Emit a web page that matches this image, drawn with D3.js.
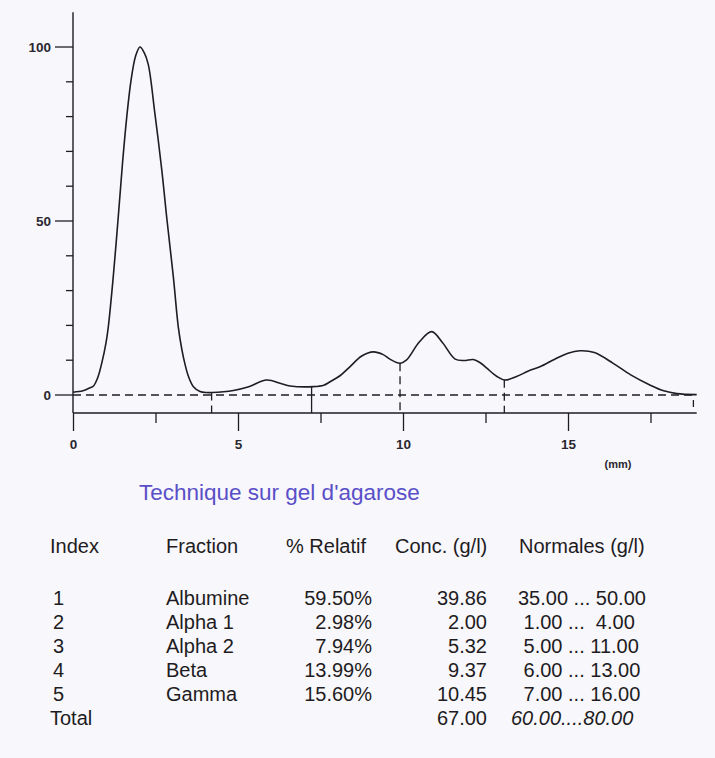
<!DOCTYPE html>
<html>
<head>
<meta charset="utf-8">
<script src="https://cdn.jsdelivr.net/npm/d3@7"></script>
<style>
  html, body { margin: 0; padding: 0; background: #f8f7fb; }
  svg { display: block; }
  text { font-family: "Liberation Sans", Arial, sans-serif; }
  .pre { white-space: pre; }
</style>
</head>
<body>
<svg id="chart" width="715" height="758"></svg>
<script>
// ---- data ----
const profileMm = [0,0.3,0.5,0.62,0.75,0.87,1.0,1.07,1.22,1.37,1.5,1.63,1.76,1.9,2.03,2.15,2.28,2.48,2.69,2.84,3.04,3.19,3.3,3.39,3.5,3.65,3.85,4.05,4.2,4.86,5.3,5.87,6.3,6.58,7.28,7.6,7.79,8.1,8.39,8.75,9.1,9.4,9.6,9.91,10.1,10.5,10.87,11.2,11.58,11.85,12.13,12.35,12.54,12.85,13.09,13.44,13.8,14.15,14.6,15.0,15.36,15.8,16.37,16.9,17.48,17.9,18.3,18.9];
const profileVal = [0.8,1.2,2.0,2.6,5,9.1,15,19.6,34,51,66.6,80,90.5,97.5,100,98.5,95,81,64.7,51,34,19.6,13,9,5.3,2.4,1.0,0.7,0.7,1.3,2.3,4.3,3.3,2.6,2.4,2.8,3.8,5.6,8.1,11.2,12.4,11.6,10.3,9.1,10,15.3,18.2,15,10.3,9.9,10.2,9.2,7.7,5.3,4.3,5.3,6.9,8.1,10.3,12,12.7,12.2,9.1,5.8,2.9,1.2,0.4,0.1];
const fractionBounds = [4.2, 7.23, 9.91, 13.07];
const profileEnd = 18.8;
const xMajorTicks = [0, 5, 10, 15];
const xMinorTicks = [2.5, 7.5, 12.5, 17.5];
const yMajorTicks = [0, 50, 100];
const yMinorTicks = [10, 20, 30, 40, 60, 70, 80, 90];

const title = "Technique sur gel d'agarose";
const headers = ["Index", "Fraction", "% Relatif", "Conc. (g/l)", "Normales (g/l)"];
const indexes = ["1", "2", "3", "4", "5"];
const fractions = ["Albumine", "Alpha 1", "Alpha 2", "Beta", "Gamma"];
const relatif = ["59.50%", "2.98%", "7.94%", "13.99%", "15.60%"];
const conc = ["39.86", "2.00", "5.32", "9.37", "10.45"];
const normLow = ["35.00", "1.00", "5.00", "6.00", "7.00"];
const normHigh = ["50.00", "4.00", "11.00", "13.00", "16.00"];
const totalLabel = "Total";
const totalConc = "67.00";
const totalNorm = "60.00....80.00";

// ---- chart ----
const svg = d3.select("#chart");
const ink = "#1f1c24";
const x = d3.scaleLinear().domain([0, 18.9]).range([73, 696.7]);
const y = d3.scaleLinear().domain([0, 100]).range([395, 47]);
const axisY = 413;

const pts = profileMm.map((m, i) => [m, profileVal[i]]);
const valAt = m => {
  const i = d3.bisector(d => d[0]).right(pts, m);
  const a = pts[i - 1], b = pts[i];
  return a[1] + (b[1] - a[1]) * (m - a[0]) / (b[0] - a[0]);
};

// y axis line
svg.append("line")
  .attr("x1", x(0)).attr("x2", x(0))
  .attr("y1", y(110)).attr("y2", axisY)
  .attr("stroke", ink).attr("stroke-width", 1.4);

// y ticks
svg.selectAll(".ymin").data(yMinorTicks).join("line")
  .attr("x1", x(0) - 7).attr("x2", x(0))
  .attr("y1", d => y(d)).attr("y2", d => y(d))
  .attr("stroke", ink).attr("stroke-width", 1.3);
svg.selectAll(".ymaj").data(yMajorTicks).join("line")
  .attr("x1", x(0) - 18).attr("x2", x(0))
  .attr("y1", d => y(d)).attr("y2", d => y(d))
  .attr("stroke", ink).attr("stroke-width", 1.3);
svg.selectAll(".ylab").data(yMajorTicks).join("text")
  .attr("x", x(0) - 22).attr("y", d => y(d)).attr("dy", "0.35em")
  .attr("text-anchor", "end").attr("font-size", 13.5).attr("font-weight", "bold")
  .attr("fill", "#2a2730").text(d => d);

// x axis
const xAxis = d3.axisBottom(x).tickValues(xMajorTicks).tickSize(18).tickFormat(d3.format("d"));
const gx = svg.append("g").attr("transform", `translate(0,${axisY})`).call(xAxis);
gx.select(".domain").attr("d", `M${x(0)},0H${x(18.9)}`).attr("stroke", ink).attr("stroke-width", 1.4);
gx.selectAll(".tick line").attr("stroke", ink).attr("stroke-width", 1.3);
gx.selectAll(".tick text").attr("font-size", 13.5).attr("font-weight", "bold")
  .attr("fill", "#2a2730").attr("y", 26).attr("font-family", "Liberation Sans, Arial, sans-serif");
const xAxisMinor = d3.axisBottom(x).tickValues(xMinorTicks).tickSize(10).tickFormat("");
const gxm = svg.append("g").attr("transform", `translate(0,${axisY})`).call(xAxisMinor);
gxm.select(".domain").remove();
gxm.selectAll(".tick line").attr("stroke", ink).attr("stroke-width", 1.3);

svg.append("text").attr("x", 618).attr("y", 468).attr("text-anchor", "middle")
  .attr("font-size", 11).attr("font-weight", "bold").attr("fill", "#2a2730").text("(mm)");

// baseline dashed
svg.append("line")
  .attr("x1", x(0)).attr("x2", x(18.9))
  .attr("y1", y(0)).attr("y2", y(0))
  .attr("stroke", ink).attr("stroke-width", 1.3).attr("stroke-dasharray", "8,5");

// fraction separators
svg.selectAll(".sep").data(fractionBounds).join("line")
  .attr("x1", d => x(d)).attr("x2", d => x(d))
  .attr("y1", d => y(valAt(d))).attr("y2", axisY)
  .attr("stroke", ink).attr("stroke-width", 1.3)
  .attr("stroke-dasharray", (d, i) => i === 1 ? null : "8,5");
svg.append("line")
  .attr("x1", x(profileEnd)).attr("x2", x(profileEnd))
  .attr("y1", y(0) + 5).attr("y2", y(0) + 12)
  .attr("stroke", ink).attr("stroke-width", 1.3);

// profile curve
const line = d3.line().x(d => x(d[0])).y(d => y(d[1])).curve(d3.curveCatmullRom.alpha(0.5));
svg.append("path").datum(pts).attr("d", line)
  .attr("fill", "none").attr("stroke", ink).attr("stroke-width", 1.6);

// ---- title & table ----
svg.append("text").attr("x", 139).attr("y", 500)
  .attr("font-size", 22.5).attr("fill", "#5a4fc8").text(title);

const textCol = "#1e1c22";
const fs = 20;
const hdrX = [50, 166, 286, 395, 519];
svg.selectAll(".hdr").data(headers).join("text")
  .attr("x", (d, i) => hdrX[i]).attr("y", 553)
  .attr("font-size", fs).attr("fill", textCol).text(d => d);

const rowY = i => 605 + i * 24;
const rows = indexes.map((d, i) => i);
svg.selectAll(".idx").data(rows).join("text")
  .attr("x", 64).attr("y", rowY).attr("text-anchor", "end")
  .attr("font-size", fs).attr("fill", textCol).text(i => indexes[i]);
svg.selectAll(".frac").data(rows).join("text")
  .attr("x", 166).attr("y", rowY)
  .attr("font-size", fs).attr("fill", textCol).text(i => fractions[i]);
svg.selectAll(".rel").data(rows).join("text")
  .attr("x", 372).attr("y", rowY).attr("text-anchor", "end")
  .attr("font-size", fs).attr("fill", textCol).text(i => relatif[i]);
svg.selectAll(".conc").data(rows).join("text")
  .attr("x", 487).attr("y", rowY).attr("text-anchor", "end")
  .attr("font-size", fs).attr("fill", textCol).text(i => conc[i]);
svg.selectAll(".norm").data(rows).join("text")
  .attr("class", "pre").attr("xml:space", "preserve")
  .attr("x", 518).attr("y", rowY)
  .attr("font-size", fs).attr("fill", textCol)
  .text(i => normLow[i].padStart(5, " ") + " ... " + normHigh[i].padStart(5, " "));

svg.append("text").attr("x", 50).attr("y", rowY(5))
  .attr("font-size", fs).attr("fill", textCol).text(totalLabel);
svg.append("text").attr("x", 487).attr("y", rowY(5)).attr("text-anchor", "end")
  .attr("font-size", fs).attr("fill", textCol).text(totalConc);
svg.append("text").attr("x", 511).attr("y", rowY(5))
  .attr("font-size", fs).attr("font-style", "italic").attr("fill", textCol).text(totalNorm);
</script>
</body>
</html>
